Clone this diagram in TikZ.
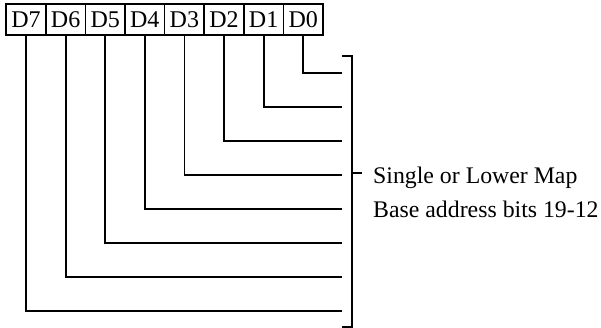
\documentclass[tikz,border=0pt]{standalone}
\usepackage{fontspec}
\setmainfont{Liberation Serif}
\usetikzlibrary{positioning}
\begin{document}
\begin{tikzpicture}[x=1pt,y=-1pt,
  bitbox/.style={draw,line width=1.6pt,minimum width=39.6pt,minimum height=31pt,
    inner sep=0pt,font=\fontsize{24}{28}\selectfont},
  wire/.style={line width=1.8pt},
]
  \useasboundingbox (0,0) rectangle (601,328);
  \foreach \i in {0,...,7} {
    \node[bitbox] (d\i) at ({303.2-39.6*\i},19.5) {D\i};
    \coordinate (e\i) at (342,{73+34*\i});
    \draw[wire] (d\i.south) |- (e\i);
  }
  \coordinate (btop) at (352,56);
  \coordinate (bmid) at (352,173);
  \coordinate (bbot) at (352,327);
  \draw[wire] ([xshift=-10pt]btop) -- (btop) -- (bbot) -- ([xshift=-10pt]bbot);
  \draw[wire] (bmid) -- ([xshift=10pt]bmid);
  \node[anchor=west,align=left,inner sep=0pt,font=\fontsize{23.8}{34}\selectfont]
    (desc) at (373,192) {Single or Lower Map\\Base address bits 19-12};
\end{tikzpicture}
\end{document}
